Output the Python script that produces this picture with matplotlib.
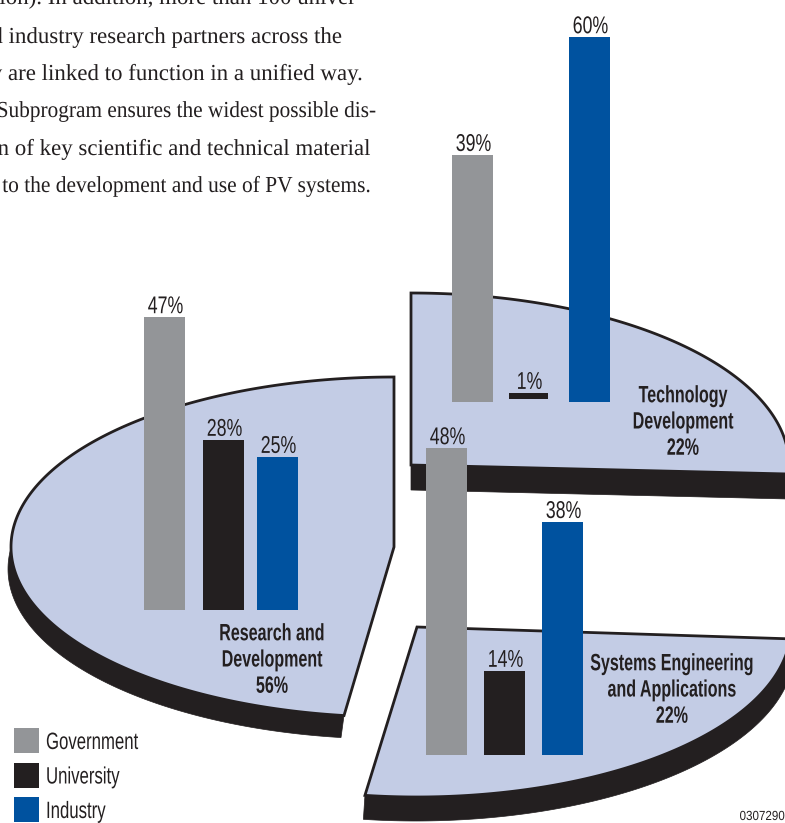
import matplotlib
matplotlib.use("Agg")
import matplotlib.pyplot as plt
import numpy as np
from matplotlib.patches import Polygon, Rectangle
from matplotlib.patheffects import AbstractPathEffect
from matplotlib.transforms import Affine2D

# bar heights, labels as printed
series = ["Government", "University", "Industry"]
rd_values = [48.0, 27.9, 25.1]
rd_labels = ["47%", "28%", "25%"]
td_values = [40.5, 1.0, 59.8]
td_labels = ["39%", "1%", "60%"]
se_values = [50.3, 13.8, 38.2]
se_labels = ["48%", "14%", "38%"]

body_lines = [
    "tion). In addition, more than 100 univer-",
    "and industry research partners across the",
    "they are linked to function in a unified way.",
    "The Subprogram ensures the widest possible dis-",
    "semination of key scientific and technical material",
    "related to the development and use of PV systems.",
]

GREY = "#939598"
BLACK = "#231F20"
BLUE = "#00529F"
SLICE = "#C3CCE5"
COLORS = [GREY, BLACK, BLUE]
PX_PER_PCT = 6.1
SANS = "Liberation Sans"

fig = plt.figure(figsize=(7.85, 8.23), dpi=100)
ax = fig.add_axes([0, 0, 1, 1])
ax.set_xlim(0, 785)
ax.set_ylim(823, 0)
ax.axis("off")


class Squeeze(AbstractPathEffect):
    """Narrows glyphs around a fixed x, no condensed font is installed."""

    def __init__(self, xc, sx):
        super().__init__()
        self.xc = xc
        self.sx = sx

    def draw_path(self, renderer, gc, tpath, affine, rgbFace=None):
        squeezed = affine + Affine2D().translate(-self.xc, 0).scale(self.sx, 1).translate(self.xc, 0)
        renderer.draw_path(gc, tpath, squeezed, rgbFace)


def narrow_text(x, y, s, sx, **kw):
    t = ax.text(x, y, s, **kw)
    t.set_path_effects([Squeeze(ax.transData.transform((x, y))[0], sx)])
    return t


def arc_points(cx, cy, rx, ry, t0, t1):
    t = np.radians(np.linspace(t0, t1, 200))
    return np.column_stack([cx + rx * np.cos(t), cy + ry * np.sin(t)])


def draw_slice(cx, cy, rx, ry, t0, t1, dx, dy, band=True, grow=0):
    arc = arc_points(cx, cy, rx, ry, t0, t1)
    pts = np.vstack([[cx, cy], arc])
    if band:
        low = arc_points(cx, cy, rx + grow, ry, t0, t1) + [dx, dy]
        shadow = np.vstack([arc, low[::-1]])
    else:
        shadow = pts + [dx, dy]
    ax.add_patch(Polygon(shadow, closed=True, fc=BLACK, ec=BLACK, lw=0.5, zorder=2))
    ax.add_patch(Polygon(pts, closed=True, fc=SLICE, ec=BLACK, lw=2.0, joinstyle="miter", zorder=3))


def draw_bars(xs, base, values, labels, widths=(41, 41, 41), lift=(0, 0, 0)):
    heights = [v * PX_PER_PCT for v in values]
    bottoms = [base - l for l in lift]
    ax.bar(xs, [-h for h in heights], width=widths, bottom=bottoms, align="edge",
           color=COLORS, zorder=5)
    for x, w, b, h, lab in zip(xs, widths, bottoms, heights, labels):
        narrow_text(x + w / 2 + 1, b - h - 4, lab, 0.73, ha="center", va="baseline",
                    family=SANS, fontsize=17.5, color=BLACK, zorder=6)


# pie slices, back to front
draw_slice(411, 465, 378, 172, 270, 363, 0, 25, band=False)
draw_slice(394, 547, 383, 170, 97.5, 270, -3, 22)
draw_slice(417, 627, 374, 170, 4, 98, -1, 24, grow=4)

draw_bars([144, 203, 257], 610, rd_values, rd_labels)
draw_bars([452, 509, 569], 402, td_values, td_labels, widths=(41, 39, 41), lift=(0, 3, 0))
draw_bars([426, 484, 542], 755, se_values, se_labels)

# slice captions
captions = [
    (272, 660, "Research and\nDevelopment\n56%"),
    (683, 422, "Technology\nDevelopment\n22%"),
    (672, 690, "Systems Engineering\nand Applications\n22%"),
]
for x, y, txt in captions:
    narrow_text(x, y, txt, 0.68, ha="center", va="center", family=SANS, fontsize=17,
                fontweight="bold", color=BLACK, linespacing=1.18, zorder=7)

# legend
for i, (name, col) in enumerate(zip(series, COLORS)):
    y = 728 + i * 34.5
    ax.add_patch(Rectangle((14, y), 25, 25, fc=col, ec="none", zorder=5))
    narrow_text(46, y + 15, name, 0.71, ha="left", va="center", family=SANS, fontsize=17,
                color=BLACK, zorder=6)

narrow_text(785, 817, "0307290", 0.88, ha="right", va="center", family=SANS, fontsize=9.5,
            color=BLACK)

# body copy, runs off the left and top of the crop
body_right = [362, 342, 362, 376, 369, 371]
body_base = [4, 43, 80, 117, 155, 192]
body_squeeze = [1, 1, 1, 0.93, 1, 0.935]
for line, x, y, sx in zip(body_lines, body_right, body_base, body_squeeze):
    narrow_text(x, y, line, sx, ha="right", va="baseline", family="Liberation Serif",
                fontsize=16.5, color=BLACK, clip_on=True)

fig.savefig("out.png", dpi=100)
